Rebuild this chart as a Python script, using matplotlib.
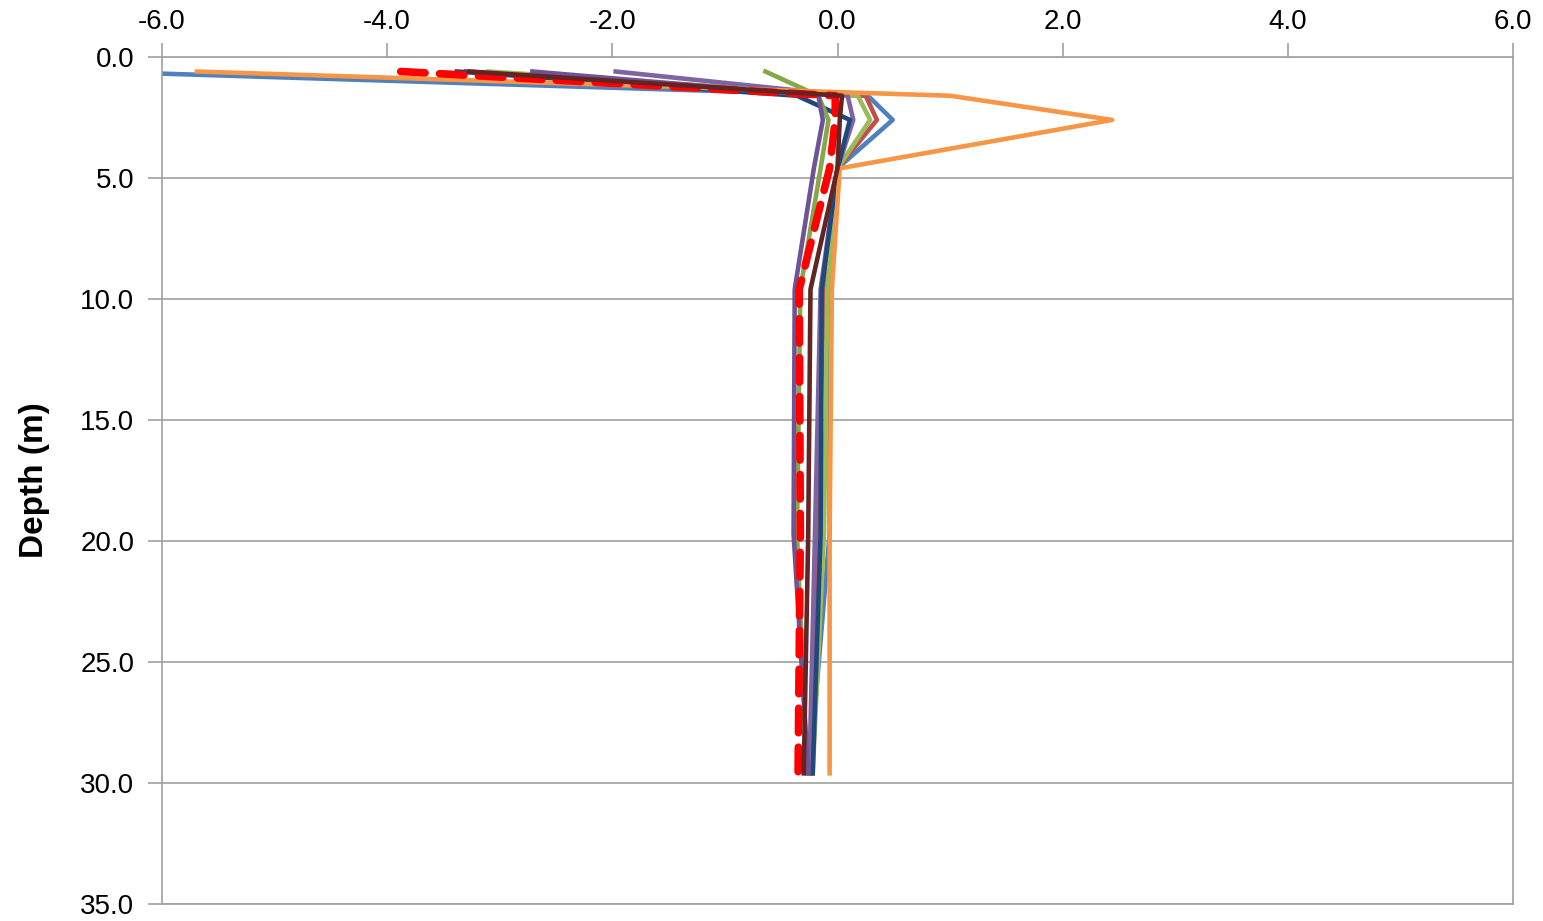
import matplotlib
matplotlib.use("Agg")
import matplotlib.pyplot as plt

plt.rcParams['font.family'] = ['Liberation Sans', 'DejaVu Sans']

depth = [0.6, 1.6, 2.6, 4.6, 9.6, 19.7, 29.6]

s_blue = [-6.6, 0.27, 0.49, 0.0, -0.07, -0.07, -0.25]
s_red = [-3.30, 0.25, 0.35, 0.0, -0.12, -0.18, -0.24]
s_green_a = [-3.10, 0.18, 0.29, 0.0, -0.09, -0.12, -0.22]
s_purple_a = [-1.97, 0.09, 0.14, 0.0, -0.15, -0.20, -0.25]
s_darkblue = [-3.38, -0.36, 0.11, 0.0, -0.14, -0.15, -0.22]
s_darkred = [-3.27, 0.04, 0.02, 0.0, -0.24, -0.26, -0.30]
s_green_b = [-0.64, -0.17, -0.08, -0.15, -0.33, -0.36, -0.27]
s_purple_b = [-2.71, -0.17, -0.13, -0.21, -0.38, -0.39, -0.26]
s_orange = [-5.69, 1.00, 2.44, 0.02, -0.05, -0.07, -0.07]
s_reddash = [-3.88, -0.02, -0.02, -0.07, -0.34, -0.33, -0.35]

xticks = [-6.0, -4.0, -2.0, 0.0, 2.0, 4.0, 6.0]
yticks = [0.0, 5.0, 10.0, 15.0, 20.0, 25.0, 30.0, 35.0]

fig = plt.figure(figsize=(15.43, 9.21), dpi=100)
ax = fig.add_axes([162/1543, 1-904/921, (1513-162)/1543, (904-57)/921])

lw = 3.3
series = [
    (s_blue, '#4F81BD'),
    (s_red, '#C0504D'),
    (s_green_a, '#9BBB59'),
    (s_purple_a, '#8064A2'),
    (s_darkblue, '#1F497D'),
    (s_green_b, '#86A84A'),
    (s_purple_b, '#6E5494'),
    (s_orange, '#F79646'),
]
for vals, col in series:
    ax.plot(vals, depth, color=col, lw=lw)
ax.plot(s_reddash, depth, color='#FF0000', lw=5.5, ls=(0, (3.2, 1.9)),
        dash_capstyle='round')
ax.plot(s_darkred, depth, color='#632523', lw=lw)

ax.set_xlim(-6, 6)
ax.set_ylim(35, 0)
ax.set_xticks(xticks)
ax.set_xticklabels([f"{v:.1f}" for v in xticks])
ax.set_yticks(yticks)
ax.set_yticklabels([f"{v:.1f}" for v in yticks])
ax.xaxis.tick_top()
ax.tick_params(axis='both', labelsize=20, labelcolor='#000000', length=10,
               width=1.2, direction='out', color='#A0A0A0')
ax.tick_params(axis='y', pad=10)
ax.tick_params(axis='x', pad=6)
ax.grid(axis='y', color='#A0A0A0', lw=1.2)
ax.set_axisbelow(True)
for sp in ax.spines.values():
    sp.set_color('#A0A0A0')
    sp.set_linewidth(1.2)
ax.set_ylabel('Depth (m)', fontsize=24, fontweight='bold', labelpad=22)

fig.savefig('out.png', dpi=100)
